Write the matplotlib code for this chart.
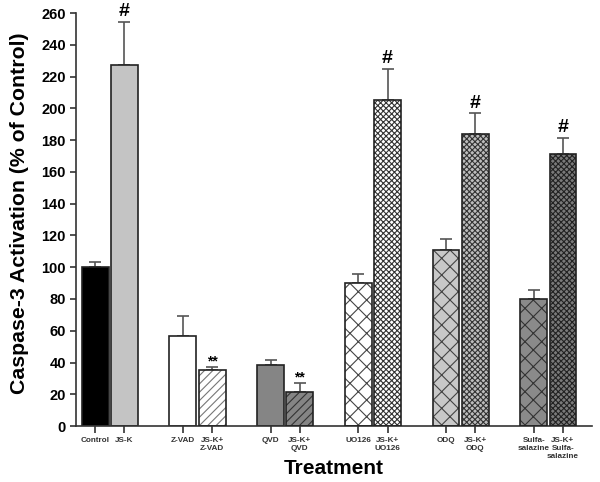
import numpy as np
import matplotlib.pyplot as plt

# DATOS
etiquetas = ["Control", "JS-K", "Z-VAD", "JS-K+\nZ-VAD", "QVD", "JS-K+\nQVD",
             "UO126", "JS-K+\nUO126", "ODQ", "JS-K+\nODQ",
             "Sulfa-\nsalazine", "JS-K+\nSulfa-\nsalazine"]
valores = [100, 227.5, 57, 35.5, 38.5, 21.5, 90, 205, 111, 184, 80, 171.5]
error_sup = [103.5, 254.5, 69, 37, 41.5, 27, 95.5, 225, 118, 197, 85.5, 181.5]
marcas = ["", "#", "", "**", "", "**", "", "#", "", "#", "", "#"]

# ESTILO DE BARRAS
rellenos = ["#000000", "#c4c4c4", "#ffffff", "#ffffff", "#858585", "#858585",
            "#ffffff", "#ffffff", "#c8c8c8", "#bdbdbd", "#8a8a8a", "#7a7a7a"]
tramas = [None, None, None, "////", None, "////",
          "xx", "xxxxxx", "xx", "xxxxxx", "xx", "xxxxxx"]
color_trama = ["k", "k", "k", "#777777", "k", "#333333",
               "#444444", "#333333", "#444444", "#333333", "#333333", "#222222"]

pos = []
for g in range(6):
    pos += [3 * g, 3 * g + 1]
pos = np.array(pos)
valores = np.array(valores)
err = np.array(error_sup) - valores

plt.rcParams["font.family"] = ["Liberation Sans", "DejaVu Sans"]
plt.rcParams["hatch.linewidth"] = 0.8

fig = plt.figure(figsize=(6, 4.82), dpi=100)
ax = fig.add_axes([0.127, 0.116, 0.86, 0.857])

ancho = 0.92
for i in range(len(pos)):
    if tramas[i]:
        ax.bar(pos[i], valores[i], ancho, color=rellenos[i], hatch=tramas[i],
               edgecolor=color_trama[i], linewidth=0, zorder=2)
        ax.bar(pos[i], valores[i], ancho, fill=False, edgecolor="#222222",
               linewidth=1.2, zorder=3)
    else:
        ax.bar(pos[i], valores[i], ancho, color=rellenos[i],
               edgecolor="#222222", linewidth=1.2, zorder=2)

ax.errorbar(pos, valores, yerr=[np.zeros(len(err)), err], fmt="none",
            ecolor="#555555", elinewidth=1.2, capsize=4, capthick=1.2, zorder=1)

for i in range(len(pos)):
    if marcas[i] == "#":
        ax.text(pos[i], error_sup[i] + 1, "#", ha="center", va="bottom",
                fontsize=14, fontweight="bold")
    elif marcas[i] == "**":
        ax.text(pos[i], error_sup[i] - 1, "**", ha="center", va="bottom",
                fontsize=10, fontweight="bold")

ax.set_xlim(-0.65, 17.0)
ax.set_ylim(0, 260)
ax.set_yticks(np.arange(0, 261, 20))
ax.set_xticks(pos)
ax.set_xticklabels(etiquetas, fontsize=5.9, fontweight="bold", linespacing=1.15,
                   color="#222222")
ax.tick_params(axis="y", labelsize=10.5, width=1.2, length=4, colors="#333333",
               labelcolor="black")
ax.tick_params(axis="x", width=1.2, length=5, colors="#333333", pad=3)
for l in ax.get_yticklabels():
    l.set_fontweight("bold")

ax.spines["top"].set_visible(False)
ax.spines["right"].set_visible(False)
ax.spines["left"].set_linewidth(1.2)
ax.spines["bottom"].set_linewidth(1.2)
ax.spines["left"].set_color("#333333")
ax.spines["bottom"].set_color("#333333")

ax.set_ylabel("Caspase-3 Activation (% of Control)", fontsize=15.3,
              fontweight="bold")
ax.yaxis.set_label_coords(-0.11, 0.515)
ax.yaxis.label.set_va("center")
ax.set_xlabel("Treatment", fontsize=15, fontweight="bold")
ax.xaxis.set_label_coords(0.5, -0.102)
ax.xaxis.label.set_va("center")

fig.savefig("out.png", dpi=100)
